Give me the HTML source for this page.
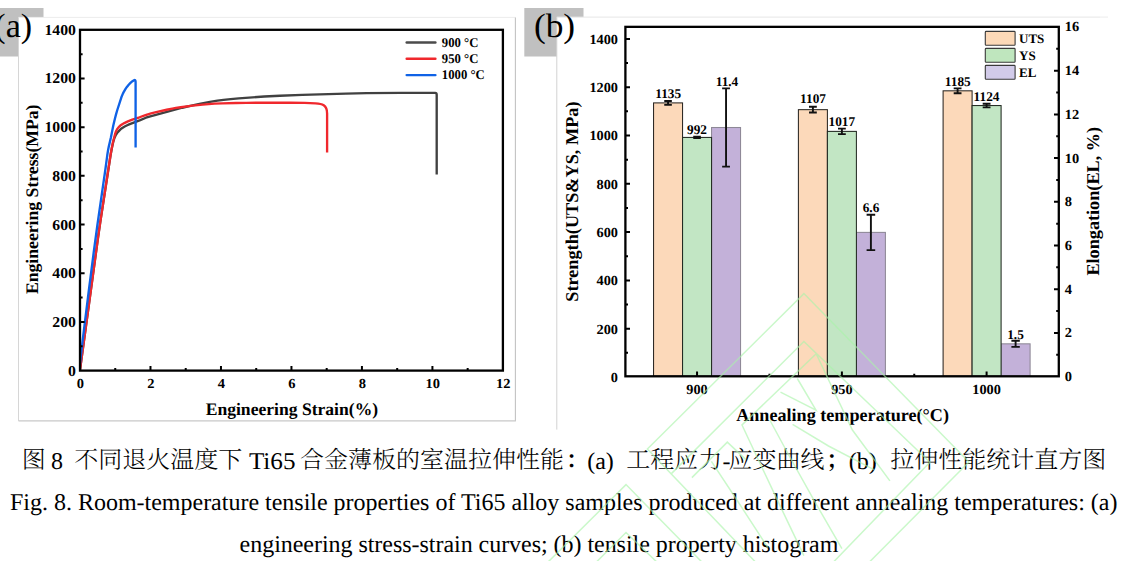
<!DOCTYPE html>
<html lang="zh"><head><meta charset="utf-8"><title>Fig. 8</title>
<style>
html,body{margin:0;padding:0;background:#fff;}
body{width:1134px;height:561px;overflow:hidden;position:relative;}
svg{position:absolute;left:0;top:0;display:block;}
text{font-family:"Liberation Serif","Noto Serif CJK SC",serif;fill:#000;text-rendering:geometricPrecision;}
.b{font-weight:bold;}
.ax{stroke:#000;stroke-width:2.3;fill:none;stroke-linecap:butt;}
.tk{stroke:#000;stroke-width:2;fill:none;}
.eb{stroke:#111;stroke-width:1.9;fill:none;}
.wm{stroke:#a9f3a9;stroke-width:1.5;fill:none;opacity:.62;stroke-linejoin:miter}
</style></head><body>
<svg width="1134" height="561" viewBox="0 0 1134 561">
<rect x="0" y="0" width="1134" height="561" fill="#fff"/>
<rect x="0" y="8" width="43.5" height="48.5" fill="#c0c0c0"/>
<rect x="524.3" y="8" width="59.2" height="48.5" fill="#c0c0c0"/>
<rect x="18.5" y="17.3" width="497" height="403.6" fill="#fff"/>
<path d="M18.5,17.4H515.5" stroke="#ececec" stroke-width="1" fill="none"/>
<path d="M18.5,17.4V420.9" stroke="#d6d6d6" stroke-width="1" fill="none"/>
<path d="M515.4,17.4V420.9" stroke="#c2c2c2" stroke-width="1.1" fill="none"/>
<path d="M18.5,420.9H515.9" stroke="#c8c8c8" stroke-width="1.1" fill="none"/>
<rect x="556.8" y="17.1" width="560" height="412.5" fill="#fff"/>
<path d="M556.8,429.6V17.1" fill="none" stroke="#d2d2d2" stroke-width="1"/>
<path d="M556.8,17.1H1100" fill="none" stroke="#e6e6e6" stroke-width="1"/>
<path d="M1100,17.1H1108" fill="none" stroke="#ececec" stroke-width="1"/>
<text x="-5.70" y="37.20" font-size="34">(a)</text>
<text transform="translate(533.90,37.20) scale(1.04,1)" font-size="34">(b)</text>
<clipPath id="cpA"><rect x="80.0" y="29.8" width="422.9" height="340.8"/></clipPath><g clip-path="url(#cpA)">
<path d="M79.90,370.50 L98.30,235.56 L100.30,221.95 L110.70,154.42 L111.90,148.01 L113.10,142.52 L113.90,139.60 L114.70,137.40 L115.90,134.84 L117.10,133.01 L119.50,130.36 L120.70,129.19 L121.50,128.52 L123.10,127.42 L124.70,126.49 L126.70,125.50 L129.10,124.44 L140.30,120.08 L145.90,117.73 L150.30,116.32 L159.50,113.93 L182.30,107.74 L190.30,105.79 L199.50,103.84 L209.90,101.91 L217.50,100.63 L223.50,99.83 L230.70,99.08 L238.70,98.38 L264.30,96.54 L279.90,95.71 L302.30,94.89 L345.90,93.61 L366.70,93.19 L401.10,92.83 L433.50,92.80 L435.2,92.9 Q436.7,93.0 436.7,94.8 L436.7,174.5" fill="none" stroke="#414141" stroke-width="2.35" stroke-linejoin="round"/>
<path d="M79.90,370.50 L98.30,235.56 L100.30,221.95 L110.70,154.05 L111.50,149.47 L112.70,143.57 L113.90,138.50 L115.10,133.99 L115.90,131.63 L116.70,129.99 L117.50,128.65 L118.70,127.10 L120.30,125.58 L122.30,124.17 L124.30,123.08 L127.90,121.43 L132.30,119.67 L139.50,117.27 L145.50,115.03 L147.90,114.26 L151.10,113.39 L155.10,112.42 L166.70,109.76 L172.30,108.59 L175.90,107.95 L180.70,107.22 L192.70,105.68 L202.70,104.60 L214.70,103.69 L222.30,103.32 L235.90,102.98 L246.30,102.82 L261.10,102.73 L290.30,102.73 L304.70,102.84 L315.50,103.30 C322,103.6 327.1,105 327.1,113.5 L327.1,152.5" fill="none" stroke="#f0282d" stroke-width="2.35" stroke-linejoin="round"/>
<path d="M79.30,370.50 L80.90,355.35 L82.50,341.56 L88.90,290.00 L93.70,252.45 L97.30,225.68 L105.30,170.00 L107.30,155.04 L108.10,150.00 L108.90,146.11 L110.90,137.55 L113.30,125.51 L114.90,118.73 L116.10,114.16 L117.30,110.00 L121.70,96.47 L122.90,93.64 L124.10,91.28 L125.70,88.61 L126.90,86.90 L128.90,84.46 L130.50,82.82 L132.10,81.42 L134.00,80.20 Q135.6,79.4 135.6,82.0 L135.6,147.4" fill="none" stroke="#0f62e6" stroke-width="2.35" stroke-linejoin="round"/>
</g>
<rect class="ax" x="80.0" y="29.8" width="422.9" height="340.8"/>
<path class="tk" d="M115.24,370.6v-2.6 M150.48,370.6v-4.6 M185.72,370.6v-2.6 M220.97,370.6v-4.6 M256.21,370.6v-2.6 M291.45,370.6v-4.6 M326.69,370.6v-2.6 M361.93,370.6v-4.6 M397.18,370.6v-2.6 M432.42,370.6v-4.6 M467.66,370.6v-2.6 M80.0,346.26h2.6 M80.0,321.91h4.6 M80.0,297.57h2.6 M80.0,273.23h4.6 M80.0,248.89h2.6 M80.0,224.54h4.6 M80.0,200.20h2.6 M80.0,175.86h4.6 M80.0,151.51h2.6 M80.0,127.17h4.6 M80.0,102.83h2.6 M80.0,78.49h4.6 M80.0,54.14h2.6"/>
<text class="b" transform="translate(75.90,375.60) scale(1.05,1)" font-size="15" text-anchor="end">0</text>
<text class="b" transform="translate(75.90,326.91) scale(1.05,1)" font-size="15" text-anchor="end">200</text>
<text class="b" transform="translate(75.90,278.23) scale(1.05,1)" font-size="15" text-anchor="end">400</text>
<text class="b" transform="translate(75.90,229.54) scale(1.05,1)" font-size="15" text-anchor="end">600</text>
<text class="b" transform="translate(75.90,180.86) scale(1.05,1)" font-size="15" text-anchor="end">800</text>
<text class="b" transform="translate(75.90,132.17) scale(1.05,1)" font-size="15" text-anchor="end">1000</text>
<text class="b" transform="translate(75.90,83.49) scale(1.05,1)" font-size="15" text-anchor="end">1200</text>
<text class="b" transform="translate(75.90,34.80) scale(1.05,1)" font-size="15" text-anchor="end">1400</text>
<text class="b" transform="translate(80.40,387.60) scale(1.05,1)" font-size="13.8" text-anchor="middle">0</text>
<text class="b" transform="translate(150.88,387.60) scale(1.05,1)" font-size="13.8" text-anchor="middle">2</text>
<text class="b" transform="translate(221.37,387.60) scale(1.05,1)" font-size="13.8" text-anchor="middle">4</text>
<text class="b" transform="translate(291.85,387.60) scale(1.05,1)" font-size="13.8" text-anchor="middle">6</text>
<text class="b" transform="translate(362.33,387.60) scale(1.05,1)" font-size="13.8" text-anchor="middle">8</text>
<text class="b" transform="translate(432.82,387.60) scale(1.05,1)" font-size="13.8" text-anchor="middle">10</text>
<text class="b" transform="translate(503.30,387.60) scale(1.05,1)" font-size="13.8" text-anchor="middle">12</text>
<text class="b" x="205.7" y="414.8" font-size="17.6" textLength="172.4" lengthAdjust="spacingAndGlyphs">Engineering Strain(%)</text>
<text class="b" transform="translate(37.6,294.1) rotate(-90)" font-size="17.65" textLength="189.6" lengthAdjust="spacingAndGlyphs">Engineering Stress(MPa)</text>
<path d="M406.7,42.40H435.4" stroke="#4b4b4b" stroke-width="2.45" stroke-linecap="round" fill="none"/>
<text class="b" transform="translate(441.80,46.50) scale(0.95,1)" font-size="13.4">900 °C</text>
<path d="M406.7,58.75H435.4" stroke="#f0282d" stroke-width="2.45" stroke-linecap="round" fill="none"/>
<text class="b" transform="translate(441.80,62.85) scale(0.95,1)" font-size="13.4">950 °C</text>
<path d="M406.7,75.10H435.4" stroke="#0f62e6" stroke-width="2.45" stroke-linecap="round" fill="none"/>
<text class="b" transform="translate(441.80,79.20) scale(0.95,1)" font-size="13.4">1000 °C</text>
<rect x="711.55" y="127.51" width="29.0" height="248.79" fill="#c3b1d9" stroke="#8d8896" stroke-width="1.05"/>
<rect x="653.55" y="102.90" width="29.0" height="273.40" fill="#fcd9ba" stroke="#2a2622" stroke-width="1.05"/>
<rect x="682.55" y="137.43" width="29.0" height="238.87" fill="#c2e6c4" stroke="#222a22" stroke-width="1.05"/>
<rect x="856.40" y="232.39" width="29.0" height="143.91" fill="#c3b1d9" stroke="#8d8896" stroke-width="1.05"/>
<rect x="798.40" y="109.66" width="29.0" height="266.64" fill="#fcd9ba" stroke="#2a2622" stroke-width="1.05"/>
<rect x="827.40" y="131.39" width="29.0" height="244.91" fill="#c2e6c4" stroke="#222a22" stroke-width="1.05"/>
<rect x="1001.10" y="343.83" width="29.0" height="32.47" fill="#c3b1d9" stroke="#8d8896" stroke-width="1.05"/>
<rect x="943.10" y="90.82" width="29.0" height="285.48" fill="#fcd9ba" stroke="#2a2622" stroke-width="1.05"/>
<rect x="972.10" y="105.55" width="29.0" height="270.75" fill="#c2e6c4" stroke="#222a22" stroke-width="1.05"/>
<path class="eb" d="M668.05,100.97V104.83M664.25,100.97h7.6M664.25,104.83h7.6"/>
<path class="eb" d="M697.05,136.71V138.16M693.25,136.71h7.6M693.25,138.16h7.6"/>
<path class="eb" d="M726.05,88.40V166.62M722.15,88.40h7.8M722.15,166.62h7.8"/>
<path class="eb" d="M812.90,106.76V112.56M809.00,106.76h7.8M809.00,112.56h7.8"/>
<path class="eb" d="M841.90,128.62V134.17M838.00,128.62h7.8M838.00,134.17h7.8"/>
<path class="eb" d="M870.90,214.69V250.09M866.60,214.69h8.6M866.60,250.09h8.6"/>
<path class="eb" d="M957.60,88.41V93.24M953.70,88.41h7.8M953.70,93.24h7.8"/>
<path class="eb" d="M986.60,103.74V107.37M982.70,103.74h7.8M982.70,107.37h7.8"/>
<path class="eb" d="M1015.60,340.77V346.88M1011.40,340.77h8.4M1011.40,346.88h8.4"/>
<text class="b" x="668.20" y="98.30" font-size="13.3" text-anchor="middle">1135</text>
<text class="b" x="697.00" y="134.30" font-size="13.3" text-anchor="middle">992</text>
<text class="b" x="727.00" y="85.50" font-size="13.3" text-anchor="middle">11.4</text>
<text class="b" x="813.00" y="103.20" font-size="13.3" text-anchor="middle">1107</text>
<text class="b" x="841.80" y="125.70" font-size="13.3" text-anchor="middle">1017</text>
<text class="b" x="871.00" y="212.00" font-size="13.3" text-anchor="middle">6.6</text>
<text class="b" x="957.80" y="85.70" font-size="13.3" text-anchor="middle">1185</text>
<text class="b" x="986.50" y="101.30" font-size="13.3" text-anchor="middle">1124</text>
<text class="b" x="1015.50" y="338.70" font-size="13.3" text-anchor="middle">1.5</text>
<rect class="ax" x="625.4" y="26.85" width="433.4" height="349.45"/>
<path class="tk" d="M625.4,352.85h2.6 M625.4,328.70h4.6 M625.4,304.55h2.6 M625.4,280.40h4.6 M625.4,256.25h2.6 M625.4,232.10h4.6 M625.4,207.95h2.6 M625.4,183.80h4.6 M625.4,159.65h2.6 M625.4,135.50h4.6 M625.4,111.35h2.6 M625.4,87.20h4.6 M625.4,63.05h2.6 M625.4,38.90h4.6 M1058.8,354.75h-2.6 M1058.8,332.90h-4.8 M1058.8,311.05h-2.6 M1058.8,289.20h-4.8 M1058.8,267.35h-2.6 M1058.8,245.50h-4.8 M1058.8,223.65h-2.6 M1058.8,201.80h-4.8 M1058.8,179.95h-2.6 M1058.8,158.10h-4.8 M1058.8,136.25h-2.6 M1058.8,114.40h-4.8 M1058.8,92.55h-2.6 M1058.8,70.70h-4.8 M1058.8,48.85h-2.6 M697.05,376.3v-4.8 M841.90,376.3v-4.8 M986.60,376.3v-4.8 M769.47,376.3v-2.6 M914.25,376.3v-2.6"/>
<text class="b" transform="translate(618.00,381.90) scale(1.03,1)" font-size="13.9" text-anchor="end">0</text>
<text class="b" transform="translate(618.00,333.60) scale(1.03,1)" font-size="13.9" text-anchor="end">200</text>
<text class="b" transform="translate(618.00,285.30) scale(1.03,1)" font-size="13.9" text-anchor="end">400</text>
<text class="b" transform="translate(618.00,237.00) scale(1.03,1)" font-size="13.9" text-anchor="end">600</text>
<text class="b" transform="translate(618.00,188.70) scale(1.03,1)" font-size="13.9" text-anchor="end">800</text>
<text class="b" transform="translate(618.00,140.40) scale(1.03,1)" font-size="13.9" text-anchor="end">1000</text>
<text class="b" transform="translate(618.00,92.10) scale(1.03,1)" font-size="13.9" text-anchor="end">1200</text>
<text class="b" transform="translate(618.00,43.80) scale(1.03,1)" font-size="13.9" text-anchor="end">1400</text>
<text class="b" transform="translate(1064.70,381.00) scale(1.04,1)" font-size="13.9">0</text>
<text class="b" transform="translate(1064.70,337.30) scale(1.04,1)" font-size="13.9">2</text>
<text class="b" transform="translate(1064.70,293.60) scale(1.04,1)" font-size="13.9">4</text>
<text class="b" transform="translate(1064.70,249.90) scale(1.04,1)" font-size="13.9">6</text>
<text class="b" transform="translate(1064.70,206.20) scale(1.04,1)" font-size="13.9">8</text>
<text class="b" transform="translate(1064.70,162.50) scale(1.04,1)" font-size="13.9">10</text>
<text class="b" transform="translate(1064.70,118.80) scale(1.04,1)" font-size="13.9">12</text>
<text class="b" transform="translate(1064.70,75.10) scale(1.04,1)" font-size="13.9">14</text>
<text class="b" transform="translate(1064.70,31.40) scale(1.04,1)" font-size="13.9">16</text>
<text class="b" transform="translate(697.05,394.30) scale(1.03,1)" font-size="13.9" text-anchor="middle">900</text>
<text class="b" transform="translate(841.90,394.30) scale(1.03,1)" font-size="13.9" text-anchor="middle">950</text>
<text class="b" transform="translate(986.60,394.30) scale(1.03,1)" font-size="13.9" text-anchor="middle">1000</text>
<text class="b" x="736.2" y="421.3" font-size="18" textLength="212.8" lengthAdjust="spacingAndGlyphs">Annealing temperature(°C)</text>
<text class="b" transform="translate(577.6,301.7) rotate(-90)" font-size="18.05" textLength="200.2" lengthAdjust="spacingAndGlyphs">Strength(UTS&amp;YS, MPa)</text>
<text class="b" transform="translate(1098.5,275.6) rotate(-90)" font-size="18.05" textLength="148.6" lengthAdjust="spacingAndGlyphs">Elongation(EL, %)</text>
<rect x="985.3" y="31.40" width="29.8" height="13.9" fill="#fcd9b8" stroke="#3a3a3a" stroke-width="1.1" rx="0.8"/>
<text class="b" x="1019.00" y="43.00" font-size="13">UTS</text>
<rect x="985.3" y="48.40" width="29.8" height="13.9" fill="#bfe6be" stroke="#3a3a3a" stroke-width="1.1" rx="0.8"/>
<text class="b" x="1019.00" y="60.00" font-size="13">YS</text>
<rect x="985.3" y="65.40" width="29.8" height="13.9" fill="#d2cbe9" stroke="#3a3a3a" stroke-width="1.1" rx="0.8"/>
<text class="b" x="1019.00" y="77.00" font-size="13">EL</text>
<text font-size="24"><tspan x="21.7" y="467.9" font-weight="300">图</tspan><tspan x="51.0" y="468.6">8</tspan><tspan x="74.2" y="467.9" font-weight="300">不同退火温度下</tspan><tspan x="248.9" y="468.6" textLength="46.6" lengthAdjust="spacingAndGlyphs">Ti65</tspan><tspan x="300.0" y="467.9" font-weight="300">合金薄板的室温拉伸性能</tspan><tspan x="565.4" y="467.9" font-weight="600">：</tspan><tspan x="587.2" y="468.6">(a)</tspan><tspan x="626.2" y="467.9" font-weight="300">工程应力</tspan><tspan x="722.4" y="468.6">-</tspan><tspan x="728.6" y="467.9" font-weight="300">应变曲线</tspan><tspan x="825.8" y="467.9" font-weight="600">；</tspan><tspan x="848.8" y="468.6">(b)</tspan><tspan x="890.3" y="467.9" font-weight="300">拉伸性能统计直方图</tspan></text>
<text font-size="24" x="10" y="509.7" textLength="1107.4" lengthAdjust="spacing">Fig. 8. Room-temperature tensile properties of Ti65 alloy samples produced at different annealing temperatures: (a)</text>
<text font-size="24" x="239.6" y="551.6" textLength="598.8" lengthAdjust="spacing">engineering stress-strain curves; (b) tensile property histogram</text>
<path class="wm" d="M758.9,565.6 L647.4,449.0 L803.9,293.6 L968.9,462.0 L863.9,567.6 M670.9,474.1 L803.9,341.5 L929.9,462.2 L833.9,561.6 M816.2,353.8 L742.0,425.0 L757.0,457.0 L781.9,509.6 L803.9,555.6 M816.2,353.8 L852.4,430.0 L889.9,480.9 M797.3,378.5 L816.0,410.1 L780.5,392.2 M769.8,420.0 L789.8,457.0 L815.9,503.6 L841.9,548.6 M792.6,424.3 L828.5,446.0 L873.9,469.6 M691.9,477.6 L727.3,442.1 L745.9,459.6 M711.4,461.3 L736.9,500.0 L767.9,547.6 M581.0,756.6 L469.5,640.0 L626.0,484.6 L791.0,653.0 L686.0,758.6 M493.0,665.1 L626.0,532.5 L752.0,653.2 L656.0,752.6"/>
</svg></body></html>
